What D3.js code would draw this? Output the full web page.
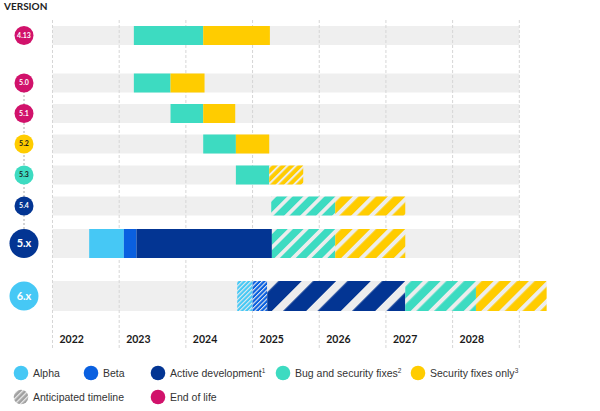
<!DOCTYPE html>
<html>
<head>
<meta charset="utf-8">
<script src="https://cdn.jsdelivr.net/npm/d3@7"></script>
<style>
  body { margin: 0; background: #fff; }
  svg { display: block; }
</style>
</head>
<body>
<svg id="chart" width="600" height="411"></svg>
<script>
// versions, top to bottom, and the status that colours each badge
const versions = ['4.13', '5.0', '5.1', '5.2', '5.3', '5.4', '5.x', '6.x'];
const versionStatus = ['eol', 'eol', 'eol', 'security', 'bugfix', 'active', 'active', 'alpha'];
const years = [2022, 2023, 2024, 2025, 2026, 2027, 2028];

// [phase, start (decimal year), end, anticipated]
const timeline413 = [['bugfix', 2023.22, 2024.26, false], ['security', 2024.26, 2025.26, false]];
const timeline50 = [['bugfix', 2023.22, 2023.77, false], ['security', 2023.77, 2024.28, false]];
const timeline51 = [['bugfix', 2023.77, 2024.26, false], ['security', 2024.26, 2024.74, false]];
const timeline52 = [['bugfix', 2024.26, 2024.75, false], ['security', 2024.75, 2025.25, false]];
const timeline53 = [['bugfix', 2024.75, 2025.25, false], ['security', 2025.25, 2025.76, true]];
const timeline54 = [['bugfix', 2025.28, 2026.24, true], ['security', 2026.24, 2027.29, true]];
const timeline5x = [['alpha', 2022.55, 2023.07, false], ['beta', 2023.07, 2023.26, false],
  ['active', 2023.26, 2025.29, false], ['bugfix', 2025.29, 2026.24, true], ['security', 2026.24, 2027.29, true]];
const timeline6x = [['alpha', 2024.77, 2025.0, true], ['beta', 2025.0, 2025.22, true],
  ['active', 2025.22, 2027.29, true], ['bugfix', 2027.29, 2028.35, true], ['security', 2028.35, 2029.41, true]];
const timelines = [timeline413, timeline50, timeline51, timeline52, timeline53, timeline54, timeline5x, timeline6x];

const legendLabels = ['Alpha', 'Beta', 'Active development', 'Bug and security fixes', 'Security fixes only', 'Anticipated timeline', 'End of life'];
const legendKeys = ['alpha', 'beta', 'active', 'bugfix', 'security', 'anticipated', 'eol'];
const legendNotes = ['', '', '1', '2', '3', '', ''];

const color = d3.scaleOrdinal()
  .domain(['alpha', 'beta', 'active', 'bugfix', 'security', 'eol', 'anticipated'])
  .range(['#46c8f5', '#0a60e0', '#033593', '#3ddbc1', '#ffcc00', '#d1126b', '#a0a0a0']);

const svg = d3.select('#chart');
const defs = svg.append('defs');

const x = d3.scaleLinear().domain([2022, 2029]).range([52.5, 519.3]);
const rowY = d3.scaleOrdinal().domain(versions).range([35.5, 83, 113.5, 144, 175, 206, 243.5, 296]);
const rowH = d3.scaleOrdinal().domain(versions).range([19, 19, 19, 19, 19, 19, 29, 30]);
const badgeR = d3.scaleOrdinal().domain(versions).range([9.5, 9.5, 9.5, 9.5, 9.5, 9.5, 14.5, 14.5]);

const font = 'Lato, "Liberation Sans", sans-serif';

// title
svg.append('text').attr('x', 4).attr('y', 10).text('VERSION')
  .attr('font-family', font).attr('font-weight', 700).attr('font-size', 10).attr('fill', '#222');

// row backgrounds
svg.append('g').selectAll('rect').data(versions).join('rect')
  .attr('x', x(2022)).attr('width', x(2029) - x(2022))
  .attr('y', d => rowY(d) - rowH(d) / 2).attr('height', d => rowH(d))
  .attr('fill', '#efefef');

// gridlines
svg.append('g').selectAll('line').data(d3.range(2022, 2030)).join('line')
  .attr('x1', d => x(d)).attr('x2', d => x(d))
  .attr('y1', 20).attr('y2', 349)
  .attr('stroke', '#d6d6d6').attr('stroke-width', 1).attr('stroke-dasharray', '3,2');

// year labels
svg.append('g').selectAll('text').data(years).join('text')
  .attr('x', d => x(d) + 7).attr('y', 343).text(d => d)
  .attr('font-family', font).attr('font-weight', 700).attr('font-size', 10.5).attr('fill', '#1a1a1a');

// segments
let pid = 0;
function hatch(fill, x0, y0, period) {
  const id = 'hatch' + (pid++);
  const p = period * Math.SQRT1_2;
  const pat = defs.append('pattern').attr('id', id)
    .attr('patternUnits', 'userSpaceOnUse')
    .attr('width', p).attr('height', p)
    .attr('patternTransform', `translate(${x0},${y0}) rotate(45)`);
  pat.append('rect').attr('width', p).attr('height', p).attr('fill', fill);
  pat.append('rect').attr('width', p * 0.33).attr('height', p).attr('fill', '#ededed');
  return `url(#${id})`;
}

const segs = svg.append('g');
versions.forEach((v, i) => {
  const h = rowH(v);
  const y0 = rowY(v) - h / 2;
  timelines[i].forEach(([phase, s, e, ant]) => {
    const x0 = x(s), w = x(e) - x(s);
    const fill = ant ? hatch(color(phase), x0, y0, Math.max(4.5, w / 4)) : color(phase);
    segs.append('rect').attr('x', x0).attr('y', y0).attr('width', w).attr('height', h).attr('fill', fill);
  });
});

// badge connector
svg.append('line').attr('x1', 24).attr('x2', 24)
  .attr('y1', rowY('5.0')).attr('y2', rowY('5.x'))
  .attr('stroke', '#aaa').attr('stroke-dasharray', '2,2');

const badges = svg.append('g').selectAll('g').data(versions).join('g')
  .attr('transform', d => `translate(24,${rowY(d)})`);
badges.append('circle').attr('r', d => badgeR(d))
  .attr('fill', (d, i) => color(versionStatus[i]));
badges.append('text').text(d => d)
  .attr('text-anchor', 'middle').attr('dy', '0.35em')
  .attr('font-family', font).attr('font-weight', 700)
  .attr('font-size', d => badgeR(d) > 10 ? 11 : 7)
  .attr('fill', (d, i) => (versionStatus[i] === 'security' || versionStatus[i] === 'bugfix') ? '#1a1a1a' : '#fff');

// legend
const legX = [21, 91, 158, 283, 418, 21, 158];
const legY = [373, 373, 373, 373, 373, 397, 397];
const leg = svg.append('g').selectAll('g').data(legendLabels).join('g')
  .attr('transform', (d, i) => `translate(${legX[i]},${legY[i]})`);
leg.append('circle').attr('r', 7.3)
  .attr('fill', (d, i) => legendKeys[i] === 'anticipated'
    ? hatch(color('anticipated'), legX[i], legY[i], 5.5)
    : color(legendKeys[i]));
const lt = leg.append('text').attr('x', 12).attr('dy', '0.35em')
  .attr('font-family', '"Liberation Sans", Arial, sans-serif').attr('font-size', 10.5).attr('fill', '#333')
  .text(d => d);
lt.append('tspan').attr('font-size', 6.5).attr('dy', -4).text((d, i) => legendNotes[i]);
</script>
</body>
</html>
